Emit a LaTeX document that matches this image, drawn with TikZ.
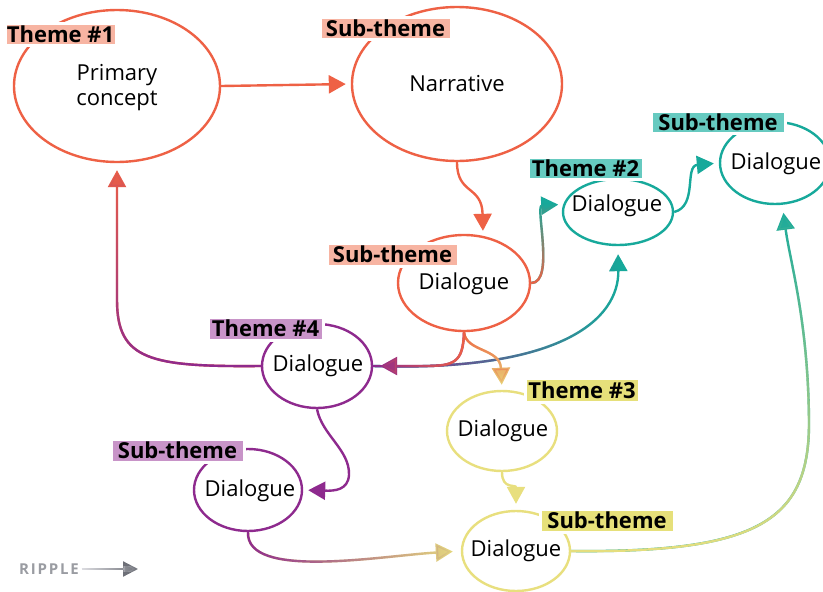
\documentclass[tikz,border=0pt]{standalone}
\usepackage{fontspec}
\setmainfont{Open Sans}
\usetikzlibrary{arrows.meta,fadings,shapes.geometric}
\definecolor{cOr}{HTML}{EE6145}
\definecolor{cOrL}{HTML}{F7B4A2}
\definecolor{cTe}{HTML}{17A99B}
\definecolor{cTeL}{HTML}{66CAC0}
\definecolor{cPu}{HTML}{8E2A8E}
\definecolor{cPuL}{HTML}{C894C8}
\definecolor{cYe}{HTML}{E8DF7E}
\definecolor{cYeL}{HTML}{E6E07A}
\definecolor{cGrD}{HTML}{6E7078}
\definecolor{cGrL}{HTML}{E4E4E8}
\definecolor{cGrT}{HTML}{9A9CA2}
\tikzfading[name=fadeR, left color=transparent!100, right color=transparent!0]
\tikzfading[name=fadeL, left color=transparent!0, right color=transparent!100]
\tikzfading[name=fadeU, top color=transparent!0, bottom color=transparent!100]
\tikzfading[name=fadeD, top color=transparent!100, bottom color=transparent!0]
\tikzfading[name=fadeDD, top color=transparent!100, middle color=transparent!35, bottom color=transparent!0]
\tikzset{
  bub/.style={ellipse, draw, line width=2.4pt, inner sep=0pt, fill=white},
  lab/.style={rectangle, draw=white, line width=3pt, inner sep=0pt, text=black,
    font=\fontsize{22}{26}\selectfont\bfseries},
  txt/.style={font=\fontsize{22}{25}\selectfont, align=center, text=black},
  conn/.style={line width=2.4pt, -{Triangle[length=17pt,width=18pt]}, shorten >=5pt},
}
\begin{document}
\begin{tikzpicture}[x=1pt,y=-1pt]
\useasboundingbox (0,0) rectangle (823,592);
% ellipses
\node[bub, draw=cOr, minimum width=206pt, minimum height=152pt] (p1) at (117,86) {};
\node[bub, draw=cOr, minimum width=210pt, minimum height=154pt] (nar) at (457,84) {};
\node[bub, draw=cOr, minimum width=132pt, minimum height=96pt] (d1) at (464,283) {};
\node[bub, draw=cTe, minimum width=110pt, minimum height=66pt] (t2) at (618,212) {};
\node[bub, draw=cTe, minimum width=110pt, minimum height=82pt] (s2) at (775,163) {};
\node[bub, draw=cPu, minimum width=110pt, minimum height=84pt] (t4) at (317,366) {};
\node[bub, draw=cPu, minimum width=108pt, minimum height=82pt] (s4) at (248,490) {};
\node[bub, draw=cYe, minimum width=110pt, minimum height=80pt] (t3) at (502,431) {};
\node[bub, draw=cYe, minimum width=108pt, minimum height=80pt] (s3) at (516,551) {};
% texts
\node[txt] (p1t) at (117,88) {Primary\\concept};
\node[txt] (nart) at (457,84) {Narrative};
\node[txt] (d1t) at (464,284) {Dialogue};
\node[txt] (t2t) at (617,206) {Dialogue};
\node[txt] (s2t) at (776,164) {Dialogue};
\node[txt] (t4t) at (318,366) {Dialogue};
\node[txt] (s4t) at (250,491) {Dialogue};
\node[txt] (t3t) at (503,431) {Dialogue};
\node[txt] (s3t) at (516,551) {Dialogue};
% labels
\node[lab, fill=cOrL, minimum width=111pt, minimum height=22pt] (l1) at (60.5,34) {Theme \#1};
\node[lab, fill=cOrL, minimum width=131pt, minimum height=22pt] (l2) at (385.5,28) {Sub-theme};
\node[lab, fill=cOrL, minimum width=131pt, minimum height=23pt] (l3) at (392.5,254.5) {Sub-theme};
\node[lab, fill=cTeL, minimum width=115pt, minimum height=22pt] (l4) at (585.5,168) {Theme \#2};
\node[lab, fill=cTeL, minimum width=134pt, minimum height=22pt] (l5) at (718,122) {Sub-theme};
\node[lab, fill=cPuL, minimum width=115pt, minimum height=23pt] (l6) at (265.5,328.5) {Theme \#4};
\node[lab, fill=cPuL, minimum width=133pt, minimum height=23pt] (l7) at (177.5,450.5) {Sub-theme};
\node[lab, fill=cYeL, minimum width=114pt, minimum height=24pt] (l8) at (582,390) {Theme \#3};
\node[lab, fill=cYeL, minimum width=134pt, minimum height=23pt] (l9) at (607,520.5) {Sub-theme};
% connectors
\draw[conn, cOr] (p1.east) -- (nar.west);
\draw[conn, cOr] (nar.south) .. controls (457,195) and (482,185) .. (d1.68);
% d1 -> t2 (orange -> teal)
\draw[conn, cTe] (d1.east) .. controls (555,283) and (535,206) .. (t2.172);
\draw[conn, cOr, path fading=fadeD] (d1.east) .. controls (555,283) and (535,206) .. (t2.172);
\draw[conn, cTe] (t2.east) .. controls (698,206) and (684,166) .. (s2.west);
% t4 -> p1 (purple -> orange)
\draw[conn, cOr, shorten >=7pt] (t4.west) .. controls (150,367) and (117,360) .. (117,300) -- (p1.south);
\draw[conn, cPu, shorten >=7pt, path fading=fadeD] (t4.west) .. controls (150,367) and (117,360) .. (117,300) -- (p1.south);
% t4 -> t2 (purple -> teal)
\draw[conn, cTe, shorten >=8pt] (t4.east) .. controls (560,372) and (619,320) .. (t2.south);
\draw[conn, cPu, shorten >=8pt, path fading=fadeL] (t4.east) .. controls (560,372) and (619,320) .. (t2.south);
% d1 -> t3 (orange -> yellow)
\draw[conn, cYe] (d1.south) .. controls (466,352) and (500,348) .. (t3.north);
\draw[conn, cOr, path fading=fadeU] (d1.south) .. controls (466,352) and (500,348) .. (t3.north);
% d1 -> t4 (orange -> purple)
\draw[conn, cPu, shorten >=7pt] (d1.south) .. controls (463,362) and (455,366) .. (425,366) -- (t4.east);
\draw[conn, cOr, shorten >=7pt, path fading=fadeR] (d1.south) .. controls (463,362) and (455,366) .. (425,366) -- (t4.east);
% t4 -> s4
\draw[conn, cPu] (t4.south) .. controls (322,435) and (350,450) .. (349,475) .. controls (348,490) and (335,491) .. (s4.east);
% t3 -> s3
\draw[conn, cYe, shorten >=6pt] (t3.south) .. controls (502,490) and (516,484) .. (s3.north);
% s4 -> s3 (purple -> yellow)
\draw[conn, cYe, shorten >=8pt] (s4.south) .. controls (246,580) and (380,556) .. (s3.west);
\draw[conn, cPu, shorten >=8pt, path fading=fadeL] (s4.south) .. controls (246,580) and (380,556) .. (s3.west);
% s3 -> s2 (yellow -> teal)
\draw[conn, cTe, shorten >=8pt] (s3.east) .. controls (760,553) and (810,520) .. (809,420) .. controls (808,320) and (790,262) .. (s2.-80);
\draw[conn, cYe, shorten >=8pt, path fading=fadeDD] (s3.east) .. controls (760,553) and (810,520) .. (809,420) .. controls (808,320) and (790,262) .. (s2.-80);
% ripple legend
\node[anchor=west, inner sep=0pt, text=cGrT, font=\fontsize{15}{18}\selectfont\bfseries\addfontfeatures{LetterSpace=12}] (rip) at (19,569) {RIPPLE};
\coordinate (ripe) at (138,569);
\draw[line width=2.2pt, cGrD, -{Triangle[length=15pt,width=15pt]}] (rip.east) ++(3,0) -- (ripe);
\draw[line width=2.2pt, cGrL, -{Triangle[length=15pt,width=15pt]}, path fading=fadeL] (rip.east) ++(3,0) -- (ripe);
\end{tikzpicture}
\end{document}
